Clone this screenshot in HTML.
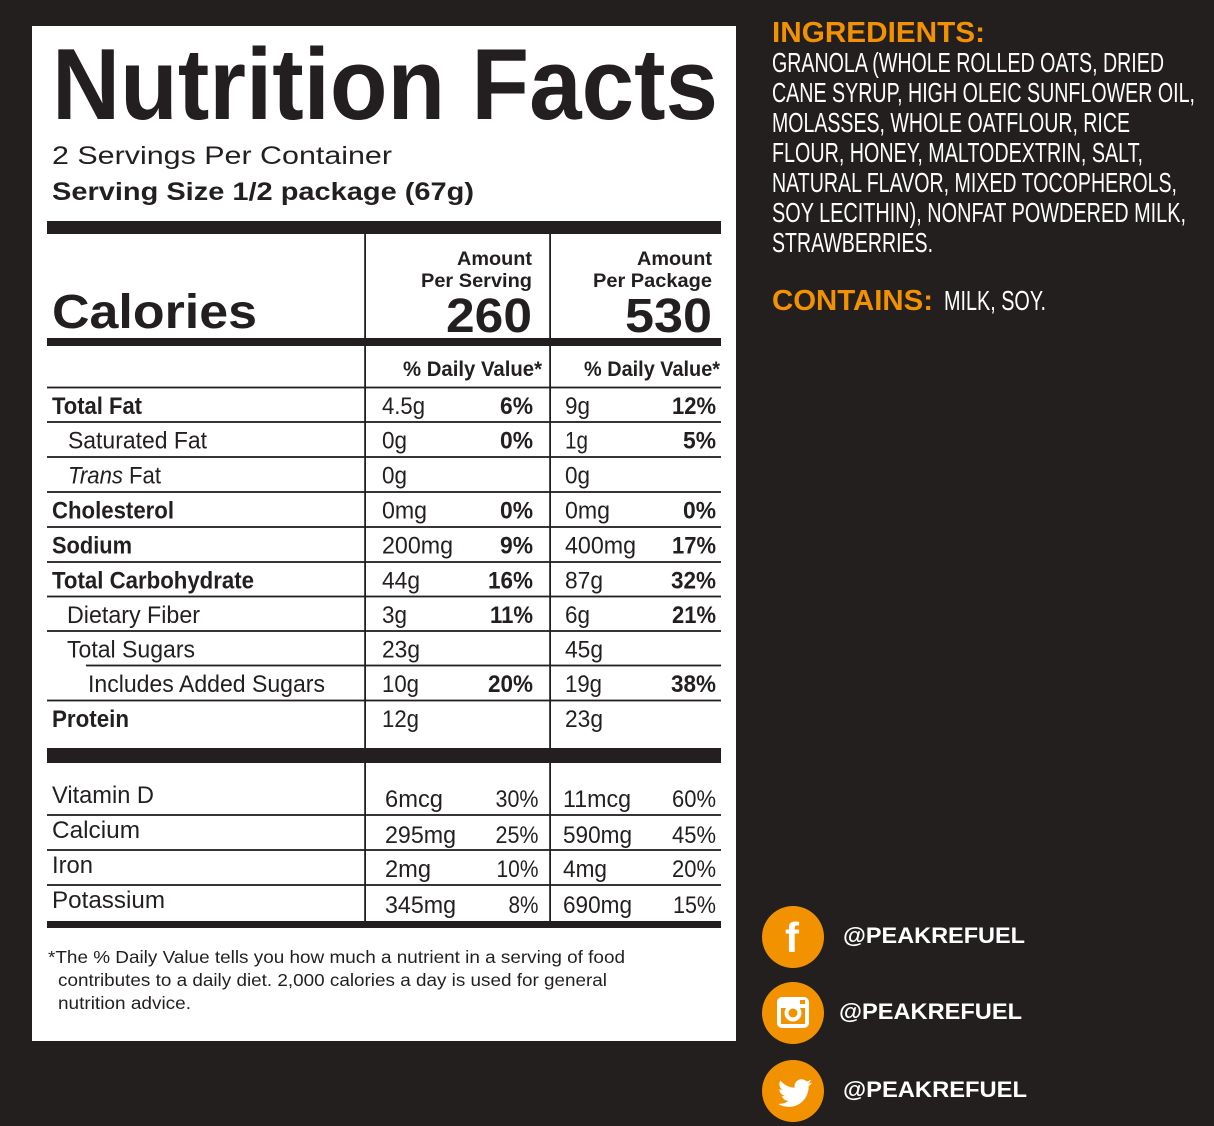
<!DOCTYPE html>
<html>
<head>
<meta charset="utf-8">
<style>
html,body{margin:0;padding:0;background:#231f1f;}
svg{display:block;}
text{font-family:"Liberation Sans",Arial,sans-serif;}
</style>
</head>
<body>
<svg width="1214" height="1126" viewBox="0 0 1214 1126" xmlns="http://www.w3.org/2000/svg">
<rect x="0" y="0" width="1214" height="1126" fill="#231f1f"/>
<!-- panel -->
<rect x="32" y="26" width="704" height="1015" fill="#ffffff"/>

<g fill="#231f20">
<text x="52" y="119" font-size="101" font-weight="bold" textLength="666" lengthAdjust="spacingAndGlyphs">Nutrition Facts</text>
<text x="52" y="164" font-size="25" textLength="340" lengthAdjust="spacingAndGlyphs">2 Servings Per Container</text>
<text x="52" y="200" font-size="25" font-weight="bold" textLength="422" lengthAdjust="spacingAndGlyphs">Serving Size 1/2 package (67g)</text>

<rect x="47" y="221" width="674" height="13"/>
<rect x="47" y="338" width="674" height="8"/>
<rect x="47" y="748" width="674" height="15"/>
<rect x="47" y="921" width="674" height="7"/>
<rect x="364.2" y="234" width="1.8" height="687"/>
<rect x="549.2" y="234" width="1.8" height="687"/>

<text x="52" y="328" font-size="48" font-weight="bold" textLength="205" lengthAdjust="spacingAndGlyphs">Calories</text>
<text x="457" y="265" font-size="19.5" font-weight="bold" textLength="75" lengthAdjust="spacingAndGlyphs">Amount</text>
<text x="421" y="287" font-size="19.5" font-weight="bold" textLength="111" lengthAdjust="spacingAndGlyphs">Per Serving</text>
<text x="446" y="332" font-size="48" font-weight="bold" textLength="86" lengthAdjust="spacingAndGlyphs">260</text>
<text x="637" y="265" font-size="19.5" font-weight="bold" textLength="75" lengthAdjust="spacingAndGlyphs">Amount</text>
<text x="593" y="287" font-size="19.5" font-weight="bold" textLength="119" lengthAdjust="spacingAndGlyphs">Per Package</text>
<text x="625" y="332" font-size="48" font-weight="bold" textLength="87" lengthAdjust="spacingAndGlyphs">530</text>

<text x="403" y="376" font-size="21" font-weight="bold" textLength="139" lengthAdjust="spacingAndGlyphs">% Daily Value*</text>
<text x="584" y="376" font-size="21" font-weight="bold" textLength="136" lengthAdjust="spacingAndGlyphs">% Daily Value*</text>

<!-- row lines -->
<rect x="47" y="386.6" width="674" height="1.8"/>
<rect x="47" y="421.1" width="674" height="1.8"/>
<rect x="47" y="456.1" width="674" height="1.8"/>
<rect x="47" y="491.1" width="674" height="1.8"/>
<rect x="47" y="526.1" width="674" height="1.8"/>
<rect x="47" y="561.1" width="674" height="1.8"/>
<rect x="47" y="595.6" width="674" height="1.8"/>
<rect x="47" y="630.1" width="674" height="1.8"/>
<rect x="86" y="664.6" width="635" height="1.8"/>
<rect x="47" y="699.6" width="674" height="1.8"/>

<!-- labels -->
<text x="52" y="414" font-size="24" font-weight="bold" textLength="90" lengthAdjust="spacingAndGlyphs">Total Fat</text>
<text x="68" y="448.5" font-size="24" textLength="139" lengthAdjust="spacingAndGlyphs">Saturated Fat</text>
<text x="68" y="483.5" font-size="24" font-style="italic" textLength="55" lengthAdjust="spacingAndGlyphs">Trans</text>
<text x="129" y="483.5" font-size="24" textLength="32" lengthAdjust="spacingAndGlyphs">Fat</text>
<text x="52" y="518.5" font-size="24" font-weight="bold" textLength="122" lengthAdjust="spacingAndGlyphs">Cholesterol</text>
<text x="52" y="553.5" font-size="24" font-weight="bold" textLength="80" lengthAdjust="spacingAndGlyphs">Sodium</text>
<text x="52" y="588.5" font-size="24" font-weight="bold" textLength="202" lengthAdjust="spacingAndGlyphs">Total Carbohydrate</text>
<text x="67" y="623" font-size="24" textLength="133" lengthAdjust="spacingAndGlyphs">Dietary Fiber</text>
<text x="67" y="657.5" font-size="24" textLength="128" lengthAdjust="spacingAndGlyphs">Total Sugars</text>
<text x="88" y="692" font-size="24" textLength="237" lengthAdjust="spacingAndGlyphs">Includes Added Sugars</text>
<text x="52" y="727" font-size="24" font-weight="bold" textLength="77" lengthAdjust="spacingAndGlyphs">Protein</text>

<!-- col1 values -->
<text x="382" y="414" font-size="24" textLength="43" lengthAdjust="spacingAndGlyphs">4.5g</text>
<text x="382" y="448.5" font-size="24" textLength="25" lengthAdjust="spacingAndGlyphs">0g</text>
<text x="382" y="483.5" font-size="24" textLength="25" lengthAdjust="spacingAndGlyphs">0g</text>
<text x="382" y="518.5" font-size="24" textLength="45" lengthAdjust="spacingAndGlyphs">0mg</text>
<text x="382" y="553.5" font-size="24" textLength="71" lengthAdjust="spacingAndGlyphs">200mg</text>
<text x="382" y="588.5" font-size="24" textLength="38" lengthAdjust="spacingAndGlyphs">44g</text>
<text x="382" y="623" font-size="24" textLength="25" lengthAdjust="spacingAndGlyphs">3g</text>
<text x="382" y="657.5" font-size="24" textLength="38" lengthAdjust="spacingAndGlyphs">23g</text>
<text x="382" y="692" font-size="24" textLength="37" lengthAdjust="spacingAndGlyphs">10g</text>
<text x="382" y="727" font-size="24" textLength="37" lengthAdjust="spacingAndGlyphs">12g</text>

<text x="500" y="414" font-size="24" font-weight="bold" textLength="33" lengthAdjust="spacingAndGlyphs">6%</text>
<text x="500" y="448.5" font-size="24" font-weight="bold" textLength="33" lengthAdjust="spacingAndGlyphs">0%</text>
<text x="500" y="518.5" font-size="24" font-weight="bold" textLength="33" lengthAdjust="spacingAndGlyphs">0%</text>
<text x="500" y="553.5" font-size="24" font-weight="bold" textLength="33" lengthAdjust="spacingAndGlyphs">9%</text>
<text x="488" y="588.5" font-size="24" font-weight="bold" textLength="45" lengthAdjust="spacingAndGlyphs">16%</text>
<text x="490" y="623" font-size="24" font-weight="bold" textLength="43" lengthAdjust="spacingAndGlyphs">11%</text>
<text x="488" y="692" font-size="24" font-weight="bold" textLength="45" lengthAdjust="spacingAndGlyphs">20%</text>

<!-- col2 values -->
<text x="565" y="414" font-size="24" textLength="25" lengthAdjust="spacingAndGlyphs">9g</text>
<text x="565" y="448.5" font-size="24" textLength="23" lengthAdjust="spacingAndGlyphs">1g</text>
<text x="565" y="483.5" font-size="24" textLength="25" lengthAdjust="spacingAndGlyphs">0g</text>
<text x="565" y="518.5" font-size="24" textLength="45" lengthAdjust="spacingAndGlyphs">0mg</text>
<text x="565" y="553.5" font-size="24" textLength="71" lengthAdjust="spacingAndGlyphs">400mg</text>
<text x="565" y="588.5" font-size="24" textLength="38" lengthAdjust="spacingAndGlyphs">87g</text>
<text x="565" y="623" font-size="24" textLength="25" lengthAdjust="spacingAndGlyphs">6g</text>
<text x="565" y="657.5" font-size="24" textLength="38" lengthAdjust="spacingAndGlyphs">45g</text>
<text x="565" y="692" font-size="24" textLength="37" lengthAdjust="spacingAndGlyphs">19g</text>
<text x="565" y="727" font-size="24" textLength="38" lengthAdjust="spacingAndGlyphs">23g</text>

<text x="672" y="414" font-size="24" font-weight="bold" textLength="44" lengthAdjust="spacingAndGlyphs">12%</text>
<text x="683" y="448.5" font-size="24" font-weight="bold" textLength="33" lengthAdjust="spacingAndGlyphs">5%</text>
<text x="683" y="518.5" font-size="24" font-weight="bold" textLength="33" lengthAdjust="spacingAndGlyphs">0%</text>
<text x="672" y="553.5" font-size="24" font-weight="bold" textLength="44" lengthAdjust="spacingAndGlyphs">17%</text>
<text x="671" y="588.5" font-size="24" font-weight="bold" textLength="45" lengthAdjust="spacingAndGlyphs">32%</text>
<text x="672" y="623" font-size="24" font-weight="bold" textLength="44" lengthAdjust="spacingAndGlyphs">21%</text>
<text x="671" y="692" font-size="24" font-weight="bold" textLength="45" lengthAdjust="spacingAndGlyphs">38%</text>

<!-- vitamins -->
<rect x="47" y="814.1" width="674" height="1.8"/>
<rect x="47" y="849.1" width="674" height="1.8"/>
<rect x="47" y="884.1" width="674" height="1.8"/>

<text x="52" y="803" font-size="24" textLength="102" lengthAdjust="spacingAndGlyphs">Vitamin D</text>
<text x="52" y="838" font-size="24" textLength="88" lengthAdjust="spacingAndGlyphs">Calcium</text>
<text x="52" y="873" font-size="24" textLength="41" lengthAdjust="spacingAndGlyphs">Iron</text>
<text x="52" y="908" font-size="24" textLength="113" lengthAdjust="spacingAndGlyphs">Potassium</text>

<text x="385" y="807" font-size="24" textLength="58" lengthAdjust="spacingAndGlyphs">6mcg</text>
<text x="385" y="843" font-size="24" textLength="71" lengthAdjust="spacingAndGlyphs">295mg</text>
<text x="385" y="877" font-size="24" textLength="46" lengthAdjust="spacingAndGlyphs">2mg</text>
<text x="385" y="913" font-size="24" textLength="71" lengthAdjust="spacingAndGlyphs">345mg</text>

<text x="495.5" y="807" font-size="24" textLength="43" lengthAdjust="spacingAndGlyphs">30%</text>
<text x="495.5" y="843" font-size="24" textLength="43" lengthAdjust="spacingAndGlyphs">25%</text>
<text x="496.5" y="877" font-size="24" textLength="42" lengthAdjust="spacingAndGlyphs">10%</text>
<text x="508.5" y="913" font-size="24" textLength="30" lengthAdjust="spacingAndGlyphs">8%</text>

<text x="563" y="807" font-size="24" textLength="68" lengthAdjust="spacingAndGlyphs">11mcg</text>
<text x="563" y="843" font-size="24" textLength="69" lengthAdjust="spacingAndGlyphs">590mg</text>
<text x="563" y="877" font-size="24" textLength="44" lengthAdjust="spacingAndGlyphs">4mg</text>
<text x="563" y="913" font-size="24" textLength="69" lengthAdjust="spacingAndGlyphs">690mg</text>

<text x="672" y="807" font-size="24" textLength="44" lengthAdjust="spacingAndGlyphs">60%</text>
<text x="672" y="843" font-size="24" textLength="44" lengthAdjust="spacingAndGlyphs">45%</text>
<text x="672" y="877" font-size="24" textLength="44" lengthAdjust="spacingAndGlyphs">20%</text>
<text x="673" y="913" font-size="24" textLength="43" lengthAdjust="spacingAndGlyphs">15%</text>

<!-- footnote -->
<text x="48" y="963" font-size="17.5" textLength="577" lengthAdjust="spacingAndGlyphs">*The % Daily Value tells you how much a nutrient in a serving of food</text>
<text x="58" y="986" font-size="17.5" textLength="549" lengthAdjust="spacingAndGlyphs">contributes to a daily diet. 2,000 calories a day is used for general</text>
<text x="58" y="1009" font-size="17.5" textLength="133" lengthAdjust="spacingAndGlyphs">nutrition advice.</text>
</g>

<!-- ingredients -->
<text x="772" y="42" font-size="29" font-weight="bold" fill="#f39200" textLength="213" lengthAdjust="spacingAndGlyphs">INGREDIENTS:</text>
<g fill="#ffffff" font-size="28">
<text x="772" y="72" textLength="392" lengthAdjust="spacingAndGlyphs">GRANOLA (WHOLE ROLLED OATS, DRIED</text>
<text x="772" y="102" textLength="423" lengthAdjust="spacingAndGlyphs">CANE SYRUP, HIGH OLEIC SUNFLOWER OIL,</text>
<text x="772" y="132" textLength="358" lengthAdjust="spacingAndGlyphs">MOLASSES, WHOLE OATFLOUR, RICE</text>
<text x="772" y="162" textLength="371" lengthAdjust="spacingAndGlyphs">FLOUR, HONEY, MALTODEXTRIN, SALT,</text>
<text x="772" y="192" textLength="405" lengthAdjust="spacingAndGlyphs">NATURAL FLAVOR, MIXED TOCOPHEROLS,</text>
<text x="772" y="222" textLength="414" lengthAdjust="spacingAndGlyphs">SOY LECITHIN), NONFAT POWDERED MILK,</text>
<text x="772" y="252" textLength="161" lengthAdjust="spacingAndGlyphs">STRAWBERRIES.</text>
<text x="944" y="310" textLength="102" lengthAdjust="spacingAndGlyphs">MILK, SOY.</text>
</g>
<text x="772" y="310" font-size="29" font-weight="bold" fill="#f39200" textLength="161" lengthAdjust="spacingAndGlyphs">CONTAINS:</text>

<!-- social -->
<circle cx="793" cy="937" r="31" fill="#f39200"/>
<circle cx="793" cy="1013" r="31" fill="#f39200"/>
<circle cx="793" cy="1091" r="31" fill="#f39200"/>

<text x="785" y="952" font-size="42" font-weight="bold" fill="#ffffff">f</text>

<rect x="777" y="997" width="32" height="31" rx="5" fill="#ffffff"/>
<rect x="781" y="1008" width="24" height="16" fill="#f39200"/>
<circle cx="793" cy="1013" r="8.5" fill="#ffffff"/>
<circle cx="793" cy="1013" r="4.5" fill="#f39200"/>
<rect x="800" y="1000" width="5" height="4" fill="#f39200"/>

<path transform="translate(778,1076) scale(1.42)" fill="#ffffff" d="M23.954 4.569c-.885.389-1.83.654-2.825.775 1.014-.611 1.794-1.574 2.163-2.723-.951.555-2.005.959-3.127 1.184-.896-.959-2.173-1.559-3.591-1.559-2.717 0-4.92 2.203-4.92 4.917 0 .39.045.765.127 1.124C7.691 8.094 4.066 6.13 1.64 3.161c-.427.722-.666 1.561-.666 2.475 0 1.71.87 3.213 2.188 4.096-.807-.026-1.566-.248-2.228-.616v.061c0 2.385 1.693 4.374 3.946 4.827-.413.111-.849.171-1.296.171-.314 0-.615-.03-.916-.086.631 1.953 2.445 3.377 4.604 3.417-1.68 1.319-3.809 2.105-6.102 2.105-.39 0-.779-.023-1.17-.067 2.189 1.394 4.768 2.209 7.557 2.209 9.054 0 13.999-7.496 13.999-13.986 0-.209 0-.42-.015-.63.961-.689 1.8-1.56 2.46-2.548l-.047-.02z"/>

<g fill="#ffffff" font-size="22" font-weight="bold">
<text x="843" y="943" textLength="182" lengthAdjust="spacingAndGlyphs">@PEAKREFUEL</text>
<text x="839" y="1019" textLength="183" lengthAdjust="spacingAndGlyphs">@PEAKREFUEL</text>
<text x="843" y="1097" textLength="184" lengthAdjust="spacingAndGlyphs">@PEAKREFUEL</text>
</g>
</svg>
</body>
</html>
